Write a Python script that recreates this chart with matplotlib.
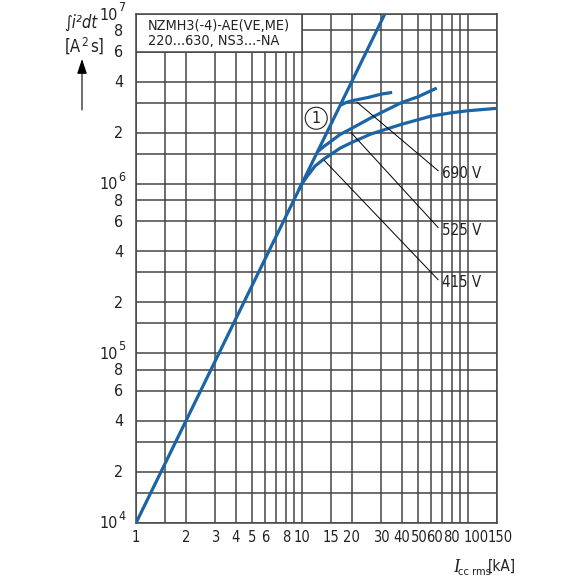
import matplotlib
matplotlib.use("Agg")
import matplotlib.pyplot as plt
from matplotlib import font_manager, transforms
from matplotlib.ticker import FixedLocator, NullFormatter
from matplotlib.patches import Rectangle

# ---------------- data ----------------
main_x = [1, 10, 31.6]
main_y = [1e4, 1e6, 1e7]

v415_x = [9.6, 10, 10.8, 12, 13.6, 15, 17, 20, 26, 30, 40, 50, 60, 80, 100, 150]
v415_y = [9.2e5, 1.0e6, 1.11e6, 1.27e6, 1.40e6, 1.49e6, 1.62e6, 1.75e6, 1.96e6,
          2.05e6, 2.24e6, 2.38e6, 2.50e6, 2.62e6, 2.69e6, 2.78e6]

v525_x = [12.4, 13.6, 15, 17, 20, 26, 30, 40, 50, 65]
v525_y = [1.54e6, 1.66e6, 1.78e6, 1.95e6, 2.12e6, 2.44e6, 2.62e6, 3.01e6, 3.25e6, 3.66e6]

v690_x = [17.2, 18.5, 20, 25, 30, 35]
v690_y = [2.91e6, 3.01e6, 3.08e6, 3.22e6, 3.37e6, 3.45e6]

x_major = [1, 2, 3, 4, 5, 6, 8, 10, 15, 20, 30, 40, 50, 60, 80, 100, 150]
x_labels = ["1", "2", "3", "4", "5", "6", "8", "10", "15", "20", "30", "40",
            "50", "60", "80", "100", "150"]
x_minor = [1.5, 7, 9, 70, 90]

y_major = [1e4, 2e4, 4e4, 6e4, 8e4, 1e5, 2e5, 4e5, 6e5, 8e5,
           1e6, 2e6, 4e6, 6e6, 8e6, 1e7]
y_labels = ["10|4", "2", "4", "6", "8", "10|5", "2", "4", "6", "8",
            "10|6", "2", "4", "6", "8", "10|7"]
y_minor = [1.5e4, 3e4, 1.5e5, 3e5, 1.5e6, 3e6]

title_lines = "NZMH3(-4)-AE(VE,ME)\n220...630, NS3...-NA"

# ---------------- fonts ----------------
flist = font_manager.fontManager.ttflist
names = {f.name for f in flist}
cond = [f for f in flist if f.name == "DejaVu Sans" and "condensed" in str(f.stretch).lower()
        and f.style == "normal" and f.weight in (400, "normal")]
cond_it = [f for f in flist if f.name == "DejaVu Sans" and "condensed" in str(f.stretch).lower()
           and f.style != "normal" and f.weight in (400, "normal")]
if "Liberation Sans Narrow" in names:
    FP = font_manager.FontProperties(family="Liberation Sans Narrow")
    FPI = font_manager.FontProperties(family="Liberation Sans Narrow", style="italic")
elif cond:
    FP = font_manager.FontProperties(fname=cond[0].fname)
    FPI = font_manager.FontProperties(fname=cond_it[0].fname) if cond_it else FP
else:
    FP = font_manager.FontProperties(family="Liberation Sans")
    FPI = font_manager.FontProperties(family="Liberation Sans", style="italic")


def fp(size, italic=False):
    p = (FPI if italic else FP).copy()
    p.set_size(size)
    return p


BLUE = "#1b64a6"
GRID = "#454545"
TXT = "#222222"

fig = plt.figure(figsize=(5.8, 5.8), dpi=100)
ax = fig.add_axes([136 / 580, 1 - 523 / 580, (497 - 136) / 580, (523 - 14) / 580])
ax.set_xscale("log")
ax.set_yscale("log")
ax.set_xlim(1, 150)
ax.set_ylim(1e4, 1e7)

ax.xaxis.set_major_locator(FixedLocator(x_major))
ax.xaxis.set_minor_locator(FixedLocator(x_minor))
ax.yaxis.set_major_locator(FixedLocator(y_major))
ax.yaxis.set_minor_locator(FixedLocator(y_minor))
ax.set_xticklabels([])
ax.set_yticklabels([])
ax.xaxis.set_minor_formatter(NullFormatter())
ax.yaxis.set_minor_formatter(NullFormatter())
ax.tick_params(which="both", length=0)
ax.grid(True, which="both", color=GRID, lw=1.1)
ax.set_axisbelow(True)
for s in ax.spines.values():
    s.set_color(GRID)
    s.set_linewidth(1.1)


def shifted(base_tr, dx=0, dy=0):
    return transforms.offset_copy(base_tr, fig=fig, x=dx, y=dy, units="dots")


# x tick labels (crowded ones nudged right as in the reference)
xshift = {"50": 1, "60": 4, "100": 8, "150": 3}
xtr = ax.get_xaxis_transform()
for val, lab in zip(x_major, x_labels):
    ax.text(val, 0, lab, transform=shifted(xtr, xshift.get(lab, 0), -7),
            ha="center", va="top", fontproperties=fp(10.5), color=TXT,
            clip_on=False)

# y tick labels (decades with superscript exponents)
ytr = ax.get_yaxis_transform()
for val, lab in zip(y_major, y_labels):
    if "|" in lab:
        base, exp = lab.split("|")
        ax.text(0, val, base, transform=shifted(ytr, -18, -1), ha="right",
                va="center", fontproperties=fp(11.5), color=TXT, clip_on=False)
        ax.text(0, val, exp, transform=shifted(ytr, -17.5, 0), ha="left",
                va="bottom", fontproperties=fp(9), color=TXT, clip_on=False)
    else:
        ax.text(0, val, lab, transform=shifted(ytr, -13, -1), ha="right",
                va="center", fontproperties=fp(11.5), color=TXT, clip_on=False)

# title box (white panel at top-left)
ax.add_patch(Rectangle((1, 6e6), 9, 4e6, facecolor="white", edgecolor=GRID,
                       lw=1.1, zorder=2))
ax.text(148, 580 - 19, title_lines, transform=None, fontproperties=fp(10.4),
        va="top", ha="left", linespacing=1.08, color=TXT, zorder=3)

# curves
kw = dict(color=BLUE, lw=2.3, solid_capstyle="butt", zorder=4)
ax.plot(main_x, main_y, **kw)
ax.plot(v415_x, v415_y, **kw)
ax.plot(v525_x, v525_y, **kw)
ax.plot(v690_x, v690_y, **kw)

# leader lines and labels
lead = dict(arrowprops=dict(arrowstyle="-", color="black", lw=0.7,
                            shrinkA=0, shrinkB=0), zorder=5)
ax.annotate("", xy=(21.5, 3.02e6), xytext=(66.4, 1.19e6), **lead)
ax.annotate("", xy=(19.8, 2.0e6), xytext=(66.4, 5.5e5), **lead)
ax.annotate("", xy=(13.65, 1.37e6), xytext=(66.4, 2.71e5), **lead)
for yv, s in [(1.15e6, "690 V"), (5.27e5, "525 V"), (2.61e5, "415 V")]:
    ax.text(70, yv, s, fontproperties=fp(10.8), ha="left", va="center", color=TXT,
            zorder=5)

# circled marker "1"
ax.text(12.2, 2.43e6, "1", fontproperties=fp(11.5), ha="center", va="center",
        color=TXT,
        bbox=dict(boxstyle="circle,pad=0.22", fc="white", ec=TXT, lw=0.8),
        zorder=6)

# y axis label with arrow
fig.text(81 / 580, 1 - 23 / 580, "∫i²dt", fontproperties=fp(12, True),
         ha="center", va="center", color=TXT)
fig.text(81 / 580, 1 - 47 / 580, "[A", fontproperties=fp(12),
         ha="right", va="center", color=TXT)
fig.text(81.5 / 580, 1 - 42 / 580, "2", fontproperties=fp(8.5),
         ha="left", va="center", color=TXT)
fig.text(90.5 / 580, 1 - 47 / 580, "s]", fontproperties=fp(12),
         ha="left", va="center", color=TXT)
ax.annotate("", xy=(82, 580 - 59), xycoords="figure pixels",
            xytext=(82, 580 - 110), textcoords="figure pixels",
            arrowprops=dict(arrowstyle="-|>,head_length=0.9,head_width=0.3",
                            color="black", lw=0.8, shrinkA=0, shrinkB=0))

# x axis label
fig.text(459 / 580, 1 - 568 / 580, "I", fontsize=13, style="italic",
         family=["Liberation Serif", "DejaVu Serif"], ha="right", va="center",
         color=TXT)
fig.text(491 / 580, 1 - 572 / 580, "cc rms", fontproperties=fp(8), ha="right",
         va="center", color=TXT)
fig.text(516 / 580, 1 - 566 / 580, "[kA]", fontproperties=fp(11), ha="right",
         va="center", color=TXT)

fig.savefig("out.png", dpi=100, facecolor="white")
